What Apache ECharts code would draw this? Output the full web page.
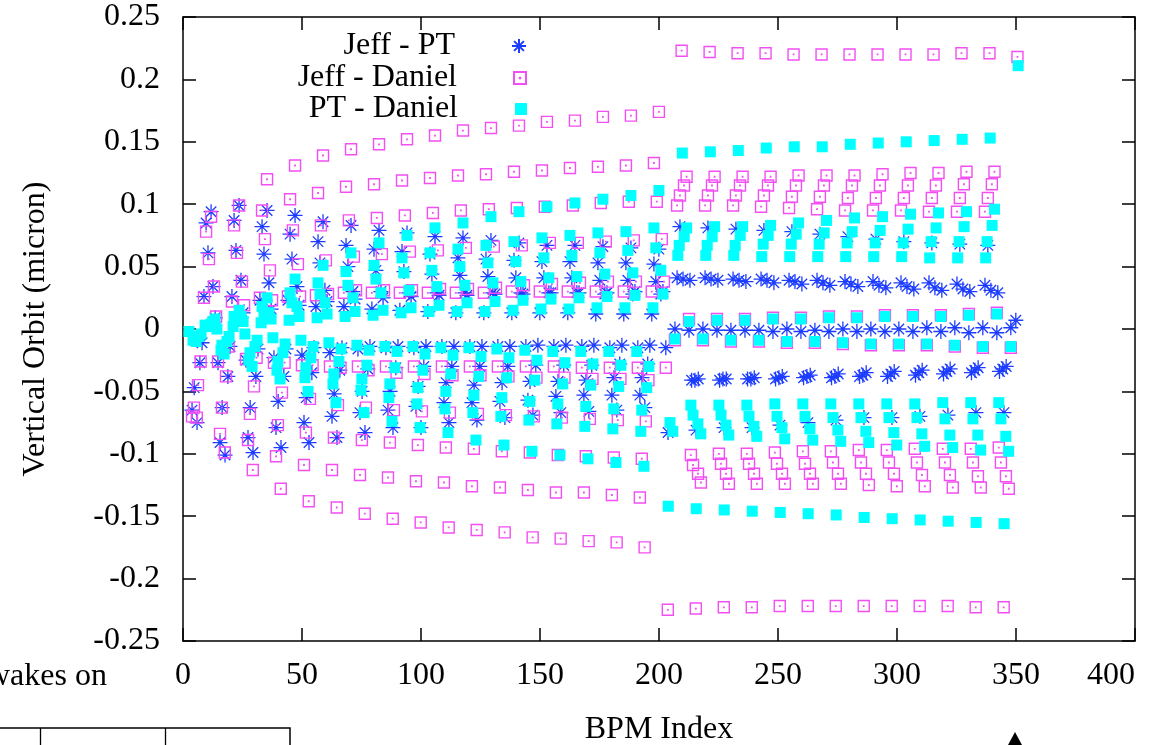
<!DOCTYPE html>
<html><head><meta charset="utf-8">
<script src="https://cdn.jsdelivr.net/npm/echarts@6/dist/echarts.min.js"></script>
<style>html,body{margin:0;padding:0;background:#fff;overflow:hidden}#c{width:1153px;height:745px}</style>
</head><body><div id="c"></div>
<script>
// BPM spacing between repeats of the lane pattern
const PERIOD = 11.76;
const xTicks = [0, 50, 100, 150, 200, 250, 300, 350, 400];
const yTicks = [-0.25, -0.2, -0.15, -0.1, -0.05, 0, 0.05, 0.1, 0.15, 0.2, 0.25];

// ---------- Jeff - PT ----------
const jeffPT_A_x0 = [11.8, 9.7, 10.5, 12.6, 8.8, 13.5, 8.0, 14.7, 7.1, 4.7, 3.8, 5.9];
const jeffPT_A_y = [
 [0.094,0.099,0.095,0.091,0.086,0.083,0.079,0.077,0.074,0.073,0.071,0.069,0.067,0.067,0.066,0.065,0.064],
 [0.085,0.087,0.082,0.076,0.070,0.067,0.064,0.062,0.060,0.057,0.056,0.055,0.054,0.054,0.053,0.053,0.052],
 [0.061,0.063,0.060,0.056,0.053,0.050,0.047,0.046,0.044,0.043,0.042,0.041,0.041,0.041,0.039,0.039,0.038],
 [0.034,0.039,0.037,0.034,0.031,0.030,0.030,0.029,0.029,0.029,0.029,0.029,0.029,0.029,0.028,0.028,0.028],
 [0.026,0.026,0.023,0.023,0.018,0.018,0.016,0.015,0.014,0.013,0.013,0.013,0.013,0.013,0.012,0.012,0.012],
 [0.009,0.013,0.016,0.019,0.022,0.024,0.025,0.026,0.027,0.027,0.028,0.028,0.029,0.029,0.029,0.030,0.030],
 [-0.011,-0.014,-0.016,-0.016,-0.015,-0.015,-0.014,-0.014,-0.014,-0.014,-0.014,-0.014,-0.013,-0.013,-0.013,-0.013,-0.013],
 [-0.027,-0.025,-0.023,-0.021,-0.019,-0.016,-0.015,-0.015,-0.014,-0.014,-0.014,-0.014,-0.014,-0.014,-0.015,-0.015,-0.015],
 [-0.027,-0.038,-0.038,-0.038,-0.035,-0.033,-0.032,-0.031,-0.030,-0.030,-0.030,-0.030,-0.029,-0.029,-0.029,-0.028,-0.028],
 [-0.047,-0.063,-0.063,-0.058,-0.055,-0.052,-0.050,-0.050,-0.046,-0.043,-0.045,-0.043,-0.042,-0.042,-0.041,-0.039,-0.039],
 [-0.065,-0.091,-0.087,-0.079,-0.075,-0.070,-0.067,-0.065,-0.062,-0.059,-0.059,-0.058,-0.057,-0.054,-0.053,-0.053,-0.053],
 [-0.075,-0.101,-0.099,-0.095,-0.091,-0.087,-0.083,-0.079,-0.079,-0.075,-0.073,-0.071,-0.069,-0.067,-0.066,-0.065,-0.063]
];
const jeffPT_B_x0 = [208.8, 207.6, 210.1, 213.0, 206.7, 212.6, 213.7, 215.1, 216.5, 203.8];
const jeffPT_B_y = [
 [0.082,0.081,0.080,0.079,0.078,0.076,0.074,0.072,0.070,0.069,0.068,0.067,0.007],
 [0.041,0.041,0.040,0.040,0.039,0.039,0.038,0.038,0.037,0.037,0.036,0.035],
 [0.040,0.040,0.039,0.039,0.038,0.037,0.036,0.035,0.034,0.033,0.032,0.031],
 [0.039,0.039,0.038,0.037,0.036,0.035,0.034,0.033,0.032,0.031,0.030,0.029],
 [0.000,0.000,-0.001,-0.001,0.000,-0.001,0.000,0.000,0.000,0.001,0.001,0.001,0.001],
 [-0.001,-0.001,-0.001,-0.002,-0.002,-0.002,-0.002,-0.002,-0.002,-0.002,-0.003,-0.003],
 [-0.041,-0.041,-0.040,-0.040,-0.039,-0.039,-0.038,-0.038,-0.037,-0.036,-0.035,-0.034],
 [-0.041,-0.040,-0.040,-0.039,-0.038,-0.038,-0.037,-0.036,-0.035,-0.034,-0.033,-0.032],
 [-0.040,-0.040,-0.039,-0.038,-0.037,-0.036,-0.035,-0.034,-0.033,-0.032,-0.031,-0.030],
 [-0.083,-0.081,-0.079,-0.079,-0.077,-0.075,-0.073,-0.071,-0.071,-0.070,-0.069,-0.067,-0.067]
];

// ---------- Jeff - Daniel ----------
const jeffDaniel_A_x0 = [11.8, 9.7, 10.9, 13.0, 8.8, 13.9, 14.7, 7.4, 6.3, 4.6, 3.8, 5.8];
const jeffDaniel_A_y = [
 [0.090,0.099,0.120,0.131,0.139,0.144,0.148,0.152,0.155,0.159,0.161,0.163,0.166,0.167,0.170,0.171,0.174],
 [0.078,0.083,0.095,0.104,0.109,0.114,0.116,0.119,0.121,0.123,0.124,0.126,0.127,0.129,0.130,0.131,0.133],
 [0.056,0.061,0.072,0.079,0.083,0.087,0.089,0.091,0.093,0.095,0.096,0.097,0.098,0.099,0.101,0.102,0.102],
 [0.034,0.038,0.047,0.052,0.055,0.058,0.060,0.062,0.063,0.065,0.066,0.067,0.069,0.069,0.070,0.071,0.072],
 [0.025,0.022,0.025,0.026,0.027,0.029,0.029,0.029,0.029,0.029,0.029,0.030,0.030,0.030,0.030,0.030,0.030],
 [0.010,0.019,0.023,0.026,0.028,0.031,0.031,0.031,0.032,0.032,0.033,0.035,0.036,0.037,0.038,0.038,0.038],
 [-0.026,-0.024,-0.027,-0.029,-0.030,-0.030,-0.030,-0.030,-0.030,-0.030,-0.030,-0.030,-0.030,-0.031,-0.031,-0.031,-0.031],
 [-0.026,-0.014,-0.023,-0.027,-0.029,-0.031,-0.033,-0.035,-0.036,-0.037,-0.037,-0.038,-0.039,-0.039,-0.040,-0.040,-0.041],
 [-0.045,-0.038,-0.046,-0.051,-0.056,-0.061,-0.063,-0.065,-0.066,-0.067,-0.068,-0.069,-0.070,-0.071,-0.072,-0.073,-0.074],
 [-0.063,-0.063,-0.068,-0.077,-0.083,-0.087,-0.089,-0.091,-0.093,-0.095,-0.096,-0.098,-0.099,-0.101,-0.102,-0.103,-0.104],
 [-0.070,-0.084,-0.089,-0.102,-0.109,-0.113,-0.117,-0.119,-0.122,-0.123,-0.126,-0.127,-0.129,-0.131,-0.131,-0.133,-0.135],
 [-0.071,-0.099,-0.113,-0.128,-0.138,-0.143,-0.148,-0.152,-0.155,-0.159,-0.161,-0.163,-0.167,-0.168,-0.170,-0.171,-0.175]
];
const jeffDaniel_B_x0 = [209.5, 211.6, 210.5, 208.8, 207.6, 212.6, 206.7, 213.4, 214.3, 216.4, 217.6, 203.7];
const jeffDaniel_B_y = [
 [0.223,0.222,0.221,0.221,0.220,0.220,0.220,0.220,0.220,0.220,0.221,0.221,0.218],
 [0.122,0.122,0.122,0.122,0.123,0.123,0.123,0.124,0.125,0.125,0.126,0.126],
 [0.115,0.115,0.115,0.115,0.115,0.115,0.115,0.115,0.115,0.115,0.116,0.116],
 [0.107,0.107,0.107,0.107,0.106,0.106,0.105,0.105,0.105,0.105,0.105,0.105],
 [0.099,0.099,0.099,0.098,0.097,0.096,0.095,0.095,0.095,0.094,0.094,0.094],
 [0.008,0.008,0.008,0.009,0.009,0.010,0.010,0.011,0.011,0.011,0.012,0.013],
 [-0.009,-0.009,-0.010,-0.010,-0.011,-0.011,-0.012,-0.013,-0.013,-0.013,-0.014,-0.015,-0.015],
 [-0.101,-0.100,-0.100,-0.099,-0.098,-0.098,-0.097,-0.097,-0.096,-0.096,-0.096,-0.095],
 [-0.109,-0.108,-0.108,-0.108,-0.108,-0.107,-0.107,-0.107,-0.107,-0.107,-0.107,-0.107],
 [-0.116,-0.116,-0.116,-0.116,-0.116,-0.116,-0.116,-0.116,-0.117,-0.117,-0.118,-0.118],
 [-0.123,-0.124,-0.124,-0.124,-0.124,-0.124,-0.125,-0.126,-0.126,-0.127,-0.127,-0.128],
 [-0.225,-0.224,-0.223,-0.223,-0.222,-0.222,-0.222,-0.222,-0.222,-0.222,-0.222,-0.223,-0.223]
];

// ---------- PT - Daniel ----------
const ptDaniel_A_x0 = [11.8, 9.7, 10.5, 12.6, 13.5, 9.3, 2.5, 7.6, 6.7, 4.6, 4.2, 5.5];
const ptDaniel_A_y = [
 [0.004,0.015,0.025,0.040,0.051,0.061,0.069,0.075,0.081,0.085,0.090,0.094,0.098,0.101,0.104,0.107,0.111],
 [0.003,0.010,0.018,0.029,0.037,0.046,0.051,0.057,0.061,0.064,0.067,0.070,0.073,0.075,0.077,0.078,0.081],
 [0.002,0.008,0.013,0.021,0.028,0.035,0.040,0.045,0.047,0.050,0.053,0.054,0.057,0.059,0.061,0.063,0.065],
 [0.006,0.010,0.013,0.018,0.021,0.025,0.029,0.031,0.034,0.035,0.037,0.038,0.041,0.042,0.044,0.045,0.047],
 [0.008,0.006,0.008,0.010,0.012,0.014,0.015,0.017,0.019,0.021,0.022,0.023,0.024,0.025,0.026,0.027,0.028],
 [0.003,0.002,0.005,0.007,0.009,0.010,0.011,0.013,0.014,0.014,0.014,0.015,0.016,0.016,0.017,0.017,0.017],
 [-0.002,0.000,-0.004,-0.007,-0.009,-0.011,-0.013,-0.014,-0.014,-0.015,-0.015,-0.016,-0.017,-0.018,-0.018,-0.018,-0.018],
 [-0.004,-0.006,-0.009,-0.012,-0.014,-0.016,-0.017,-0.018,-0.020,-0.021,-0.022,-0.023,-0.025,-0.027,-0.028,-0.029,-0.030],
 [-0.006,-0.010,-0.014,-0.019,-0.023,-0.026,-0.029,-0.031,-0.033,-0.036,-0.038,-0.039,-0.041,-0.044,-0.045,-0.046,-0.047],
 [-0.008,-0.013,-0.019,-0.026,-0.031,-0.036,-0.040,-0.044,-0.047,-0.050,-0.053,-0.055,-0.058,-0.060,-0.062,-0.064,-0.065],
 [-0.009,-0.017,-0.025,-0.033,-0.039,-0.044,-0.049,-0.055,-0.060,-0.064,-0.067,-0.070,-0.073,-0.076,-0.078,-0.080,-0.082],
 [-0.010,-0.020,-0.030,-0.040,-0.050,-0.059,-0.067,-0.074,-0.079,-0.083,-0.089,-0.093,-0.098,-0.101,-0.104,-0.107,-0.110]
];
const ptDaniel_B_x0 = [209.8, 211.6, 210.6, 208.5, 207.9, 212.6, 206.7, 213.4, 214.3, 204.6, 205.8, 203.9];
const ptDaniel_B_y = [
 [0.141,0.142,0.143,0.145,0.146,0.146,0.148,0.149,0.150,0.151,0.152,0.153,0.211],
 [0.081,0.082,0.082,0.083,0.085,0.087,0.089,0.090,0.092,0.093,0.094,0.096],
 [0.074,0.074,0.075,0.075,0.076,0.077,0.078,0.079,0.080,0.081,0.082,0.083],
 [0.067,0.067,0.067,0.068,0.068,0.068,0.069,0.069,0.069,0.070,0.070,0.070],
 [0.059,0.059,0.059,0.058,0.058,0.058,0.058,0.058,0.058,0.057,0.057,0.057],
 [0.006,0.007,0.007,0.008,0.008,0.009,0.009,0.010,0.010,0.010,0.011,0.012],
 [-0.008,-0.008,-0.009,-0.009,-0.010,-0.010,-0.011,-0.012,-0.012,-0.012,-0.013,-0.014,-0.014],
 [-0.061,-0.061,-0.061,-0.060,-0.060,-0.060,-0.060,-0.060,-0.060,-0.059,-0.059,-0.059],
 [-0.069,-0.069,-0.070,-0.070,-0.070,-0.071,-0.071,-0.071,-0.071,-0.072,-0.072,-0.072],
 [-0.075,-0.076,-0.077,-0.078,-0.079,-0.080,-0.081,-0.082,-0.083,-0.084,-0.085,-0.085,-0.086],
 [-0.082,-0.084,-0.085,-0.086,-0.088,-0.089,-0.090,-0.091,-0.093,-0.094,-0.095,-0.097,-0.098],
 [-0.142,-0.144,-0.145,-0.146,-0.147,-0.148,-0.149,-0.151,-0.152,-0.153,-0.154,-0.155,-0.156]
];

const seriesNames = ['Jeff - PT', 'Jeff - Daniel', 'PT - Daniel'];

function lanes(x0s, yss) {
  const out = [];
  yss.forEach((ys, k) => ys.forEach((y, j) => out.push([x0s[k] + j * PERIOD, y])));
  return out;
}

const FONT = 'Liberation Serif';
const BLUE = '#1c3cff', MAGENTA = '#f34ef3', CYAN = '#00ffff';
const ASTERISK = 'path://M0 5L10 5M5 0L5 10M1.5 1.5L8.5 8.5M8.5 1.5L1.5 8.5';
const BOXDOT = 'path://M0 0L10 0L10 10L0 10Z M4.8 4.8L5.2 4.8L5.2 5.2L4.8 5.2Z';

const chart = echarts.init(document.getElementById('c'), null, {renderer: 'canvas'});
const axisLineStyle = {color: '#000', width: 1.5};
const fmtY = v => String(parseFloat(Number(v).toFixed(2)));

function legendFor(name, top, size) {
  return {
    data: [name], right: 626, top: top, orient: 'vertical', align: 'right',
    itemWidth: size, itemHeight: size, padding: 0, selectedMode: false,
    textStyle: {fontFamily: FONT, fontSize: 32, color: '#000', lineHeight: 32, padding: [0, 52, 0, 0]}
  };
}

chart.setOption({
  animation: false,
  backgroundColor: '#fff',
  grid: {left: 183, right: 18, top: 17, bottom: 104, containLabel: false, outerBoundsMode: 'none'},
  legend: [legendFor(seriesNames[0], 30, 14), legendFor(seriesNames[1], 62, 12), legendFor(seriesNames[2], 93, 12)],
  xAxis: [{
    type: 'value', min: xTicks[0], max: xTicks[xTicks.length - 1], interval: 50, position: 'bottom',
    axisLine: {show: true, onZero: false, lineStyle: axisLineStyle},
    axisTick: {show: true, inside: true, length: 13, lineStyle: axisLineStyle},
    axisLabel: {show: true, fontFamily: FONT, fontSize: 32, color: '#000', margin: 19, alignMaxLabel: 'right'},
    splitLine: {show: false},
    name: 'BPM Index', nameLocation: 'middle', nameGap: 73,
    nameTextStyle: {fontFamily: FONT, fontSize: 32, color: '#000'}
  }, {
    type: 'value', min: xTicks[0], max: xTicks[xTicks.length - 1], interval: 50, position: 'top',
    axisLine: {show: true, onZero: false, lineStyle: axisLineStyle},
    axisTick: {show: true, inside: true, length: 13, lineStyle: axisLineStyle},
    axisLabel: {show: false}, splitLine: {show: false}
  }],
  yAxis: [{
    type: 'value', min: yTicks[0], max: yTicks[yTicks.length - 1], interval: 0.05, position: 'left',
    axisLine: {show: true, onZero: false, lineStyle: axisLineStyle},
    axisTick: {show: true, inside: true, length: 13, lineStyle: axisLineStyle},
    axisLabel: {show: true, fontFamily: FONT, fontSize: 32, color: '#000', margin: 23, formatter: fmtY},
    splitLine: {show: false},
    name: 'Vertical Orbit (micron)', nameLocation: 'middle', nameGap: 131, nameRotate: 90,
    nameTextStyle: {fontFamily: FONT, fontSize: 32, color: '#000'}
  }, {
    type: 'value', min: yTicks[0], max: yTicks[yTicks.length - 1], interval: 0.05, position: 'right',
    axisLine: {show: true, onZero: false, lineStyle: axisLineStyle},
    axisTick: {show: true, inside: true, length: 13, lineStyle: axisLineStyle},
    axisLabel: {show: false}, splitLine: {show: false}
  }],
  series: [{
    name: seriesNames[0], type: 'scatter', xAxisIndex: 0, yAxisIndex: 0,
    data: lanes(jeffPT_A_x0, jeffPT_A_y).concat(lanes(jeffPT_B_x0, jeffPT_B_y)),
    symbol: ASTERISK, symbolSize: 15, z: 2,
    itemStyle: {color: 'rgba(0,0,0,0)', borderColor: BLUE, borderWidth: 1.3, opacity: 1},
    emphasis: {disabled: true}
  }, {
    name: seriesNames[1], type: 'scatter', xAxisIndex: 0, yAxisIndex: 0,
    data: lanes(jeffDaniel_A_x0, jeffDaniel_A_y).concat(lanes(jeffDaniel_B_x0, jeffDaniel_B_y)),
    symbol: BOXDOT, symbolSize: 11, z: 3,
    itemStyle: {color: 'rgba(0,0,0,0)', borderColor: MAGENTA, borderWidth: 1.4, opacity: 1},
    emphasis: {disabled: true}
  }, {
    name: seriesNames[2], type: 'scatter', xAxisIndex: 0, yAxisIndex: 0,
    data: lanes(ptDaniel_A_x0, ptDaniel_A_y).concat(lanes(ptDaniel_B_x0, ptDaniel_B_y)),
    symbol: 'rect', symbolSize: 11, z: 4,
    itemStyle: {color: CYAN, opacity: 1},
    emphasis: {disabled: true}
  }],
  graphic: [
    {type: 'text', x: -13, y: 661, style: {text: 'wakes on', font: '32px "Liberation Serif"', fill: '#000'}},
    {type: 'polyline', shape: {points: [[0, 728], [290, 728], [290, 745]]}, style: {stroke: '#000', lineWidth: 1.5, fill: null}},
    {type: 'line', shape: {x1: 40.5, y1: 728, x2: 40.5, y2: 745}, style: {stroke: '#000', lineWidth: 1.3}},
    {type: 'line', shape: {x1: 165.5, y1: 728, x2: 165.5, y2: 745}, style: {stroke: '#000', lineWidth: 1.3}},
    {type: 'polygon', shape: {points: [[1008, 745], [1015, 732], [1022, 745]]}, style: {fill: '#000'}}
  ]
});
</script>
</body></html>
